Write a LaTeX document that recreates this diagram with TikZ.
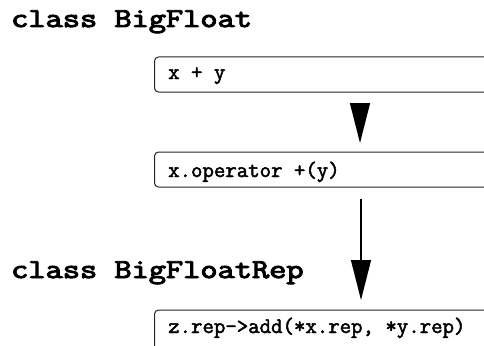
\documentclass[tikz,border=0pt]{standalone}
\usepackage{fontspec}
\usetikzlibrary{arrows.meta}
% heavy typewriter faces, emboldened Latin Modern Mono
\newfontfamily\titlefont{Latin Modern Mono}[FakeBold=3.5]
\newfontfamily\callfont{Latin Modern Mono}[FakeBold=2.2]
\tikzset{
  classtitle/.style={anchor=base west, inner sep=0pt, font=\titlefont\fontsize{33.4}{35}\selectfont},
  codetext/.style={anchor=base west, inner sep=0pt, font=\callfont\fontsize{22.2}{24}\selectfont},
  callbox/.style={draw=black!85, line width=1pt, rounded corners=4pt},
  bigarrow/.style={line width=1.2pt, -{Triangle[width=20pt,length=40pt]}},
}
\begin{document}
\begin{tikzpicture}[x=1pt,y=-1pt]
  \useasboundingbox (0,0) rectangle (484,345);
  \clip (0,0) rectangle (484,345);

  % class headings
  \node[classtitle] (t1) at (11,27) {\scalebox{1}[0.82]{class BigFloat}};
  \node[classtitle] (t2) at (11,278) {\scalebox{1}[0.82]{class BigFloatRep}};

  % call boxes, open to the right
  \draw[callbox] (154.5,57) rectangle (500,92);
  \draw[callbox] (154.5,152) rectangle (500,187);
  \draw[callbox] (154.5,310) rectangle (500,360);

  \node[codetext] (c1) at (168,79) {x + y};
  \node[codetext] (c2) at (168,177) {x.operator +(y)};
  \node[codetext] (c3) at (168,333) {z.rep->add(*x.rep, *y.rep)};

  % call chain
  \coordinate (a1s) at (360,103);
  \coordinate (a1e) at (360,143);
  \coordinate (a2s) at (361,199);
  \coordinate (a2e) at (361,300);
  \draw[bigarrow] (a1s) -- (a1e);
  \draw[bigarrow] (a2s) -- (a2e);
\end{tikzpicture}
\end{document}
